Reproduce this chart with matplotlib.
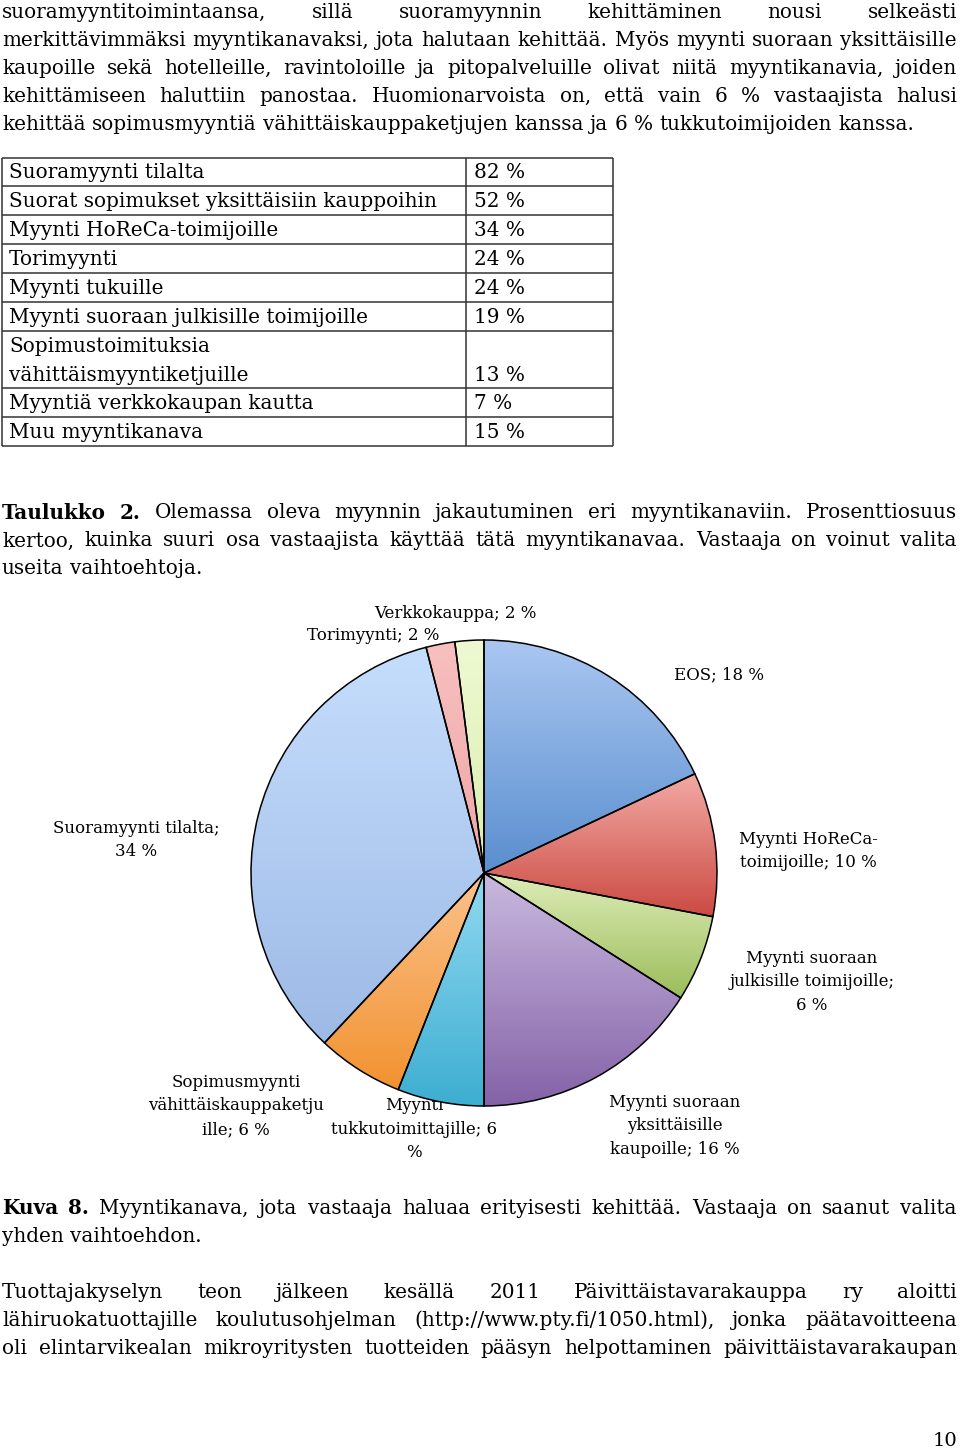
import matplotlib.pyplot as plt
import numpy as np
from matplotlib.colors import to_rgb

W, H, DPI = 960, 1451, 100

# ---------------------------------------------------------------------
# data
# ---------------------------------------------------------------------
table_channels = [
    "Suoramyynti tilalta",
    "Suorat sopimukset yksittäisiin kauppoihin",
    "Myynti HoReCa-toimijoille",
    "Torimyynti",
    "Myynti tukuille",
    "Myynti suoraan julkisille toimijoille",
    "Sopimustoimituksia\nvähittäismyyntiketjuille",
    "Myyntiä verkkokaupan kautta",
    "Muu myyntikanava",
]
table_pct = [82, 52, 34, 24, 24, 19, 13, 7, 15]

pie_names = [
    "EOS",
    "Myynti HoReCa-\ntoimijoille",
    "Myynti suoraan\njulkisille toimijoille",
    "Myynti suoraan\nyksittäisille\nkaupoille",
    "Myynti\ntukkutoimittajille",
    "Sopimusmyynti\nvähittäiskauppaketju\nille",
    "Suoramyynti tilalta",
    "Torimyynti",
    "Verkkokauppa",
]
pie_pct = [18, 10, 6, 16, 6, 6, 34, 2, 2]

# ---------------------------------------------------------------------
# styles / layout
# ---------------------------------------------------------------------
pie_grad = [  # (top, bottom)
    ("#aac7f1", "#5a8ecf"),
    ("#f2a9a4", "#cb4a42"),
    ("#deedb8", "#9bbc5a"),
    ("#c9b9df", "#8462a7"),
    ("#92d9f1", "#3daed1"),
    ("#fbc28c", "#f29230"),
    ("#c6defd", "#9dbae6"),
    ("#f7c0bf", "#efa6a6"),
    ("#eef9d2", "#dbeeae"),
]
label_fmt = ["{n}; {v} %", "{n}; {v} %", "{n};\n{v} %", "{n}; {v} %",
             "{n}; {v}\n%", "{n}; {v} %", "{n};\n{v} %", "{n}; {v} %",
             "{n}; {v} %"]
label_pos = [(719, 675), (808, 851), (812, 982), (675, 1126), (414, 1129),
             (236, 1106), (136, 840), (373, 635), (455, 614)]

CX, CY, R = 484, 873, 233
FONT = "DejaVu Serif"
BODY = 14.4
PIE_FS = 12.0

para_top = [
    "suoramyyntitoimintaansa, sillä suoramyynnin kehittäminen nousi selkeästi",
    "merkittävimmäksi myyntikanavaksi, jota halutaan kehittää. Myös myynti suoraan yksittäisille",
    "kaupoille sekä hotelleille, ravintoloille ja pitopalveluille olivat niitä myyntikanavia, joiden",
    "kehittämiseen haluttiin panostaa. Huomionarvoista on, että vain 6 % vastaajista halusi",
    "kehittää sopimusmyyntiä vähittäiskauppaketjujen kanssa ja 6 % tukkutoimijoiden kanssa.",
]
cap_table = [
    "Taulukko 2. Olemassa oleva myynnin jakautuminen eri myyntikanaviin. Prosenttiosuus",
    "kertoo, kuinka suuri osa vastaajista käyttää tätä myyntikanavaa. Vastaaja on voinut valita",
    "useita vaihtoehtoja.",
]
cap_fig = [
    "Kuva 8. Myyntikanava, jota vastaaja haluaa erityisesti kehittää. Vastaaja on saanut valita",
    "yhden vaihtoehdon.",
]
para_bottom = [
    "Tuottajakyselyn teon jälkeen kesällä 2011 Päivittäistavarakauppa ry aloitti",
    "lähiruokatuottajille koulutusohjelman (http://www.pty.fi/1050.html), jonka päätavoitteena",
    "oli elintarvikealan mikroyritysten tuotteiden pääsyn helpottaminen päivittäistavarakaupan",
]

fig = plt.figure(figsize=(W / DPI, H / DPI), dpi=DPI)
fig.patch.set_facecolor("white")
pg = fig.add_axes([0, 0, 1, 1])
pg.set_xlim(0, W)
pg.set_ylim(H, 0)
pg.axis("off")
renderer = fig.canvas.get_renderer()


def put_line(words, y, justify, x0=2, x1=957, size=BODY):
    # words: list of (word, weight); justified lines are spread to x0..x1
    while True:
        txts = [pg.text(0, y, w, fontsize=size, fontweight=wt, family=FONT,
                        va="center", ha="left") for w, wt in words]
        widths = [t.get_window_extent(renderer).width for t in txts]
        sp = 0.318 * size * DPI / 72
        if not justify:
            gap = sp
            break
        gap = (x1 - x0 - sum(widths)) / max(len(words) - 1, 1)
        if gap >= 0.55 * sp:
            break
        for t in txts:
            t.remove()
        size *= 0.985
    x = x0
    for t, wd in zip(txts, widths):
        t.set_x(x)
        x += wd + gap


def paragraph(lines, y0, n_bold=0, last_ragged=True, step=28):
    for i, ln in enumerate(lines):
        words = ln.split(" ")
        wts = ["bold" if (i == 0 and k < n_bold) else "normal"
               for k in range(len(words))]
        last = i == len(lines) - 1
        put_line(list(zip(words, wts)), y0 + i * step,
                 justify=not (last and last_ragged))


paragraph(para_top, 12)
paragraph(cap_table, 513, n_bold=2)
paragraph(cap_fig, 1208, n_bold=2)
paragraph(para_bottom, 1292, last_ragged=False)

# ---------------------------------------------------------------------
# table
# ---------------------------------------------------------------------
tx0, tx1, tdiv = 2, 613, 466
row_h = [57.0 if "\n" in c else 28.95 for c in table_channels]
edges = np.concatenate([[157.5], 157.5 + np.cumsum(row_h)])
pg.hlines(edges, tx0, tx1, color="#333333", lw=1.1)
pg.vlines([tx0, tdiv, tx1], edges[0], edges[-1], color="#333333", lw=1.1)
for i, (name, v) in enumerate(zip(table_channels, table_pct)):
    top, bot = edges[i], edges[i + 1]
    if "\n" in name:
        l1, l2 = name.split("\n")
        pg.text(9, top + 15.5, l1, fontsize=BODY, family=FONT, va="center")
        pg.text(9, bot - 13, l2, fontsize=BODY, family=FONT, va="center")
        pg.text(474, bot - 13, f"{v} %", fontsize=BODY, family=FONT, va="center")
    else:
        mid = (top + bot) / 2 + 1
        pg.text(9, mid, name, fontsize=BODY, family=FONT, va="center")
        pg.text(474, mid, f"{v} %", fontsize=BODY, family=FONT, va="center")

# ---------------------------------------------------------------------
# pie
# ---------------------------------------------------------------------
ax = fig.add_axes([(CX - R) / W, 1 - (CY + R) / H, 2 * R / W, 2 * R / H])
ax.axis("off")
wedges, _ = ax.pie(pie_pct, radius=1, startangle=90, counterclock=False,
                   wedgeprops=dict(edgecolor="black", linewidth=1.1))
for w, (c_top, c_bot) in zip(wedges, pie_grad):
    ext = w.get_path().get_extents()
    t = np.linspace(0, 1, 256)[:, None]
    grad = (1 - t) * np.array(to_rgb(c_top)) + t * np.array(to_rgb(c_bot))
    im = ax.imshow(grad[:, None, :], extent=(ext.x0, ext.x1, ext.y0, ext.y1),
                   origin="upper", aspect="auto", zorder=1, interpolation="bilinear")
    im.set_clip_path(w)
    w.set_facecolor("none")
    w.set_zorder(2)
    w.set_clip_on(False)
ax.set_xlim(-1, 1)
ax.set_ylim(-1, 1)

for name, v, fmt, (lx, ly) in zip(pie_names, pie_pct, label_fmt, label_pos):
    pg.text(lx, ly, fmt.format(n=name, v=v), fontsize=PIE_FS, family=FONT,
            ha="center", va="center", linespacing=1.5, zorder=5)

pg.text(957, 1441, "10", fontsize=14, family=FONT, ha="right", va="center")

fig.savefig("out.png", dpi=DPI, facecolor="white")
